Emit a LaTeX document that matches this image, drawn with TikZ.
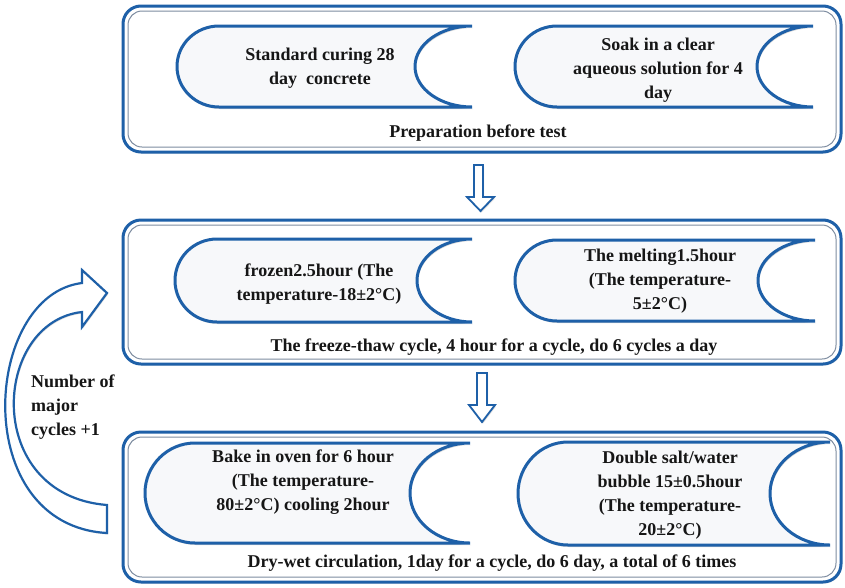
\documentclass[tikz,border=0pt]{standalone}
\usepackage{fontspec}
\setmainfont{Liberation Serif}
\usetikzlibrary{shadows}
\definecolor{bl}{RGB}{30,96,168}
\definecolor{innerln}{RGB}{125,140,160}
\definecolor{scrfill}{RGB}{247,248,250}
\definecolor{txt}{RGB}{22,22,22}
% #1 xl, #2 yt, #3 xr, #4 yb, #5 xc (concave depth point), #6 rx
\newcommand\scrollshape[6]{%
  \path[scroll] (#3,#2) -- ({#1+#6},#2)
    .. controls ({#1+#6*0.448},#2) and (#1,{(#2+#4)/2-0.5523*(#4-#2)/2}) .. (#1,{(#2+#4)/2})
    .. controls (#1,{(#2+#4)/2+0.5523*(#4-#2)/2}) and ({#1+#6*0.448},#4) .. ({#1+#6},#4)
    -- (#3,#4)
    .. controls ({#3-0.5523*(#3-#5)},#4) and (#5,{(#2+#4)/2+0.5523*(#4-#2)/2}) .. (#5,{(#2+#4)/2})
    .. controls (#5,{(#2+#4)/2-0.5523*(#4-#2)/2}) and ({#3-0.5523*(#3-#5)},#2) .. (#3,#2) -- cycle;}
\newcommand\stageframe[4]{%
  \path[outerbox] (#1,#2) rectangle (#3,#4);
  \path[innerbox] ({#1+5},{#2+5}) rectangle ({#3-5},{#4-5});}
\tikzset{
  scroll/.style={draw=bl, line width=3pt, fill=scrfill,
    drop shadow={opacity=0.3, shadow xshift=1pt, shadow yshift=-2pt}},
  outerbox/.style={draw=bl, line width=3pt, fill=white, rounded corners=18pt,
    drop shadow={opacity=0.2, shadow xshift=1pt, shadow yshift=-1.5pt}},
  innerbox/.style={draw=innerln, line width=1pt, rounded corners=14pt},
  blockarrow/.style={draw=bl, line width=1.8pt, fill=white, line join=miter,
    drop shadow={opacity=0.25, shadow xshift=1pt, shadow yshift=-1.5pt}},
  txtnode/.style={text=txt, font=\bfseries\fontsize{18}{24}\selectfont, align=center, inner sep=0pt},
}
\begin{document}
\begin{tikzpicture}[x=1pt,y=-1pt]
\useasboundingbox (0,0) rectangle (845,587);
\fill[white] (0,0) rectangle (845,587);

% frames
\stageframe{123}{6}{841}{152}
\stageframe{123}{220}{841}{364}
\stageframe{123}{432}{841}{582}

% scroll shapes
\scrollshape{177}{26}{472}{107}{415}{42}
\scrollshape{515}{26}{813}{107}{757}{42}
\scrollshape{175}{239}{472}{322}{417}{42}
\scrollshape{515}{240}{815}{321}{758}{42}
\scrollshape{145}{443}{470}{543}{410}{50}
\scrollshape{518}{442}{830}{545}{770}{50}

% texts
\node[txtnode] (t1) at (320,68) {Standard curing 28\\day~ concrete};
\node[txtnode] (t2) at (658,70) {Soak in a clear\\aqueous solution for 4\\day};
\node[txtnode] (l1) at (478,133) {Preparation before test};
\node[txtnode] (t3) at (319,284) {frozen2.5hour (The\\temperature-18±2°C)};
\node[txtnode] (t4) at (660,281) {The melting1.5hour\\(The temperature-\\5±2°C)};
\node[txtnode] (l2) at (494,347) {The freeze-thaw cycle, 4 hour for a cycle, do 6 cycles a day};
\node[txtnode] (t5) at (303,482) {Bake in oven for 6 hour\\(The temperature-\\80±2°C) cooling 2hour};
\node[txtnode] (t6) at (670,495) {Double salt/water\\bubble 15±0.5hour\\(The temperature-\\20±2°C)};
\node[txtnode] (l3) at (492,563) {Dry-wet circulation, 1day for a cycle, do 6 day, a total of 6 times};
\node[txtnode, align=left, anchor=west] (lab) at (31,407) {Number of\\major\\cycles +1};

% down block arrows
\path[blockarrow] (474,165) -- (483,165) -- (483,197) -- (494,197) -- (480.5,211) -- (467,197) -- (474,197) -- cycle;
\path[blockarrow] (477,373) -- (487,373) -- (487,405) -- (495,405) -- (482,422) -- (469,405) -- (477,405) -- cycle;

% curved return arrow
\path[blockarrow, line width=2.2pt] (107,533) .. controls (-32,525) and (-17,295) .. (82,283)
  -- (82,270) -- (107,293) -- (82,327) -- (82,312)
  .. controls (-8,322) and (-18,495) .. (107,505) -- cycle;
\end{tikzpicture}
\end{document}
